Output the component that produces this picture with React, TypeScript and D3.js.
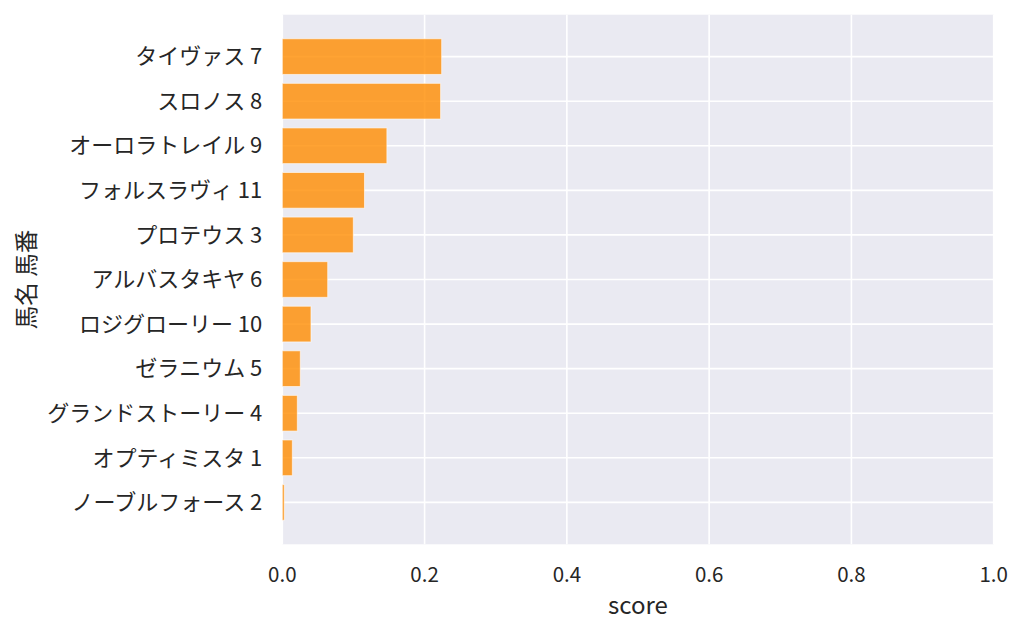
import { useMemo } from "react";
import { scaleLinear } from "d3";

const horses = [
  "タイヴァス 7",
  "スロノス 8",
  "オーロラトレイル 9",
  "フォルスラヴィ 11",
  "プロテウス 3",
  "アルバスタキヤ 6",
  "ロジグローリー 10",
  "ゼラニウム 5",
  "グランドストーリー 4",
  "オプティミスタ 1",
  "ノーブルフォース 2",
];
const scores = [0.224, 0.2225, 0.147, 0.1155, 0.0998, 0.0638, 0.0403, 0.0253, 0.0211, 0.0141, 0.0028];
const xTicks = [0, 0.2, 0.4, 0.6, 0.8, 1.0];

const W = 1024;
const H = 634;
const plot = { left: 282.3, right: 993.7, top: 14.7, bottom: 544.3 };
const FONT = "'Noto Sans CJK JP', 'Noto Sans', sans-serif";

export default function App() {
  const x = useMemo(() => scaleLinear().domain([0, 1]).range([plot.left, plot.right]), []);
  const y = useMemo(
    () => scaleLinear().domain([-0.94, horses.length - 1 + 0.94]).range([plot.top, plot.bottom]),
    []
  );
  const barH = y(0.4) - y(-0.4);

  return (
    <svg width={W} height={H} style={{ position: "absolute", left: 0, top: 0, background: "#fff" }}>
      <rect x={plot.left} y={plot.top} width={plot.right - plot.left} height={plot.bottom - plot.top} fill="#eaeaf2" />
      {/* grid */}
      {xTicks.map((t) => (
        <line key={t} x1={x(t)} x2={x(t)} y1={plot.top} y2={plot.bottom} stroke="#fff" strokeWidth={1.6} />
      ))}
      {horses.map((h, i) => (
        <line key={h} x1={plot.left} x2={plot.right} y1={y(i)} y2={y(i)} stroke="#fff" strokeWidth={1.6} />
      ))}
      {/* bars */}
      {horses.map((h, i) => (
        <rect
          key={h}
          x={x(0)}
          y={y(i) - barH / 2}
          width={x(scores[i]) - x(0)}
          height={barH}
          fill="#ff8c00"
          fillOpacity={0.8}
          stroke="#ffffff"
          strokeOpacity={0.6}
          strokeWidth={1}
        />
      ))}
      {/* y tick labels */}
      {horses.map((h, i) => (
        <text key={h} x={plot.left - 20} y={y(i)} dy="0.35em" textAnchor="end" fontFamily={FONT} fontSize={22} fill="#262626">
          {h}
        </text>
      ))}
      {/* x tick labels */}
      {xTicks.map((t) => (
        <text key={t} x={x(t)} y={582} textAnchor="middle" fontFamily={FONT} fontSize={20.5} fill="#262626">
          {t.toFixed(1)}
        </text>
      ))}
      <text x={(plot.left + plot.right) / 2} y={614} textAnchor="middle" fontFamily={FONT} fontSize={24} fill="#262626">
        score
      </text>
      <text
        transform={`translate(25, ${(plot.top + plot.bottom) / 2}) rotate(-90)`}
        textAnchor="middle"
        dominantBaseline="central"
        fontFamily={FONT}
        fontSize={23.5}
        fill="#262626"
      >
        馬名 馬番
      </text>
    </svg>
  );
}
